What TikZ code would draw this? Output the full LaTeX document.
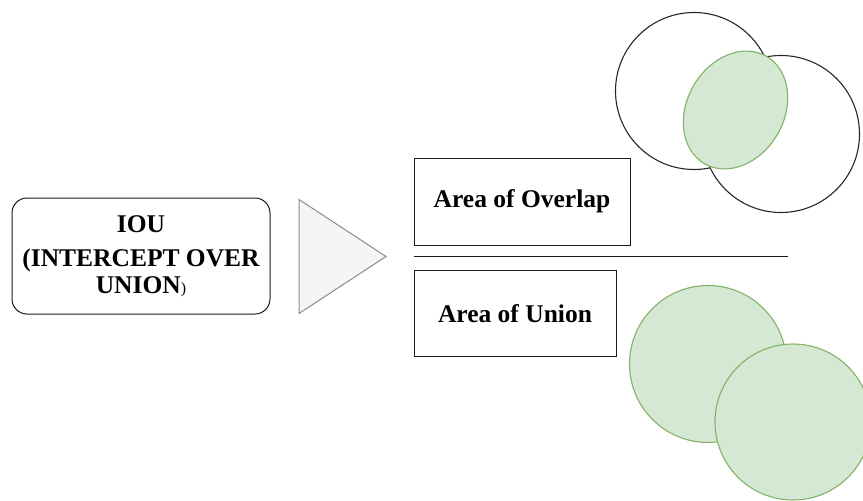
\documentclass[tikz,border=0pt]{standalone}
\usepackage{fontspec}
\setmainfont{Liberation Serif}
\usetikzlibrary{shapes.geometric}
\definecolor{greenfill}{HTML}{D5E8D4}
\definecolor{greenline}{HTML}{82B366}
\definecolor{trifill}{HTML}{F5F5F5}
\definecolor{triline}{HTML}{8C8C8C}
\definecolor{boxline}{HTML}{1A1A1A}
\begin{document}
\begin{tikzpicture}[x=1pt,y=-1pt,
  every node/.style={inner sep=0pt, outer sep=0pt},
  label text/.style={font=\bfseries\fontsize{25.5}{27}\selectfont},
  roundbox/.style={draw=boxline, line width=1pt, rounded corners=15pt, fill=white},
  areabox/.style={draw=boxline, line width=1pt, fill=white, label text},
  outline circle/.style={circle, draw=black!85, line width=1.1pt, fill=white},
  green shape/.style={draw=greenline, line width=1.1pt, fill=greenfill},
]
\useasboundingbox (0,0) rectangle (863,501);
\clip (0,0) rectangle (863,501);

% left title box
\node[roundbox, minimum width=258pt, minimum height=116pt] (iou) at (141,256) {};
\node[label text, align=center] (iouText) at (141,256.5)
  {IOU\\[7pt](INTERCEPT OVER\\UNION{\mdseries\fontsize{16}{18}\selectfont)}};

% pointer triangle
\coordinate (triTop) at (299,199.5);
\coordinate (triTip) at (386,256.5);
\coordinate (triBot) at (299,313.5);
\draw[fill=trifill, draw=triline, line width=1pt, line join=miter]
  (triTop) -- (triTip) -- (triBot) -- cycle;

% fraction: numerator, bar, denominator
\node[areabox, minimum width=216pt, minimum height=87pt] (overlap) at (522,201.5) {Area of Overlap};
\node[areabox, minimum width=202pt, minimum height=86pt] (union) at (515,313.5) {Area of Union};
\coordinate (barL) at (414,256.5);
\coordinate (barR) at (788,256.5);
\draw[line width=1pt, black!90] (barL) -- (barR);

% overlap pictogram
\node[outline circle, minimum size=157pt] (boxA) at (694,91) {};
\node[outline circle, minimum size=157pt] (boxB) at (781,134) {};
\node[ellipse, green shape, rotate=-30, minimum width=97pt, minimum height=124pt] (inter) at (735.5,110) {};

% union pictogram
\node[circle, green shape, minimum size=157pt] (unA) at (708,364) {};
\node[circle, green shape, minimum size=156pt] (unB) at (793,422) {};
\end{tikzpicture}
\end{document}
